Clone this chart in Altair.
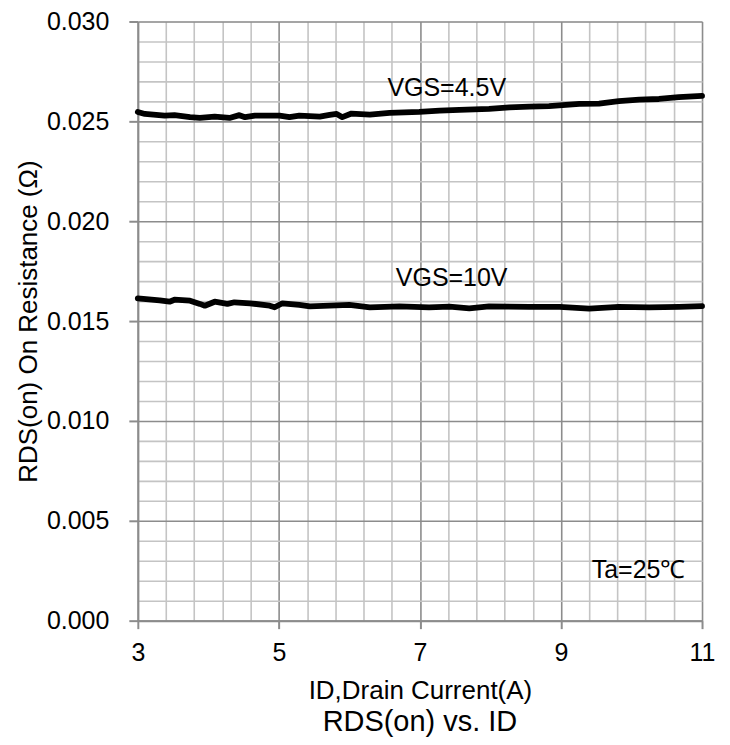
import altair as alt
import pandas as pd

# VGS = 4.5 V curve
id_45 = [3.00, 3.10, 3.38, 3.52, 3.74, 3.88, 4.09, 4.30, 4.44, 4.52, 4.66, 5.01, 5.15,
         5.29, 5.58, 5.72, 5.82, 5.90, 6.03, 6.29, 6.57, 6.99, 7.28, 7.56, 7.98, 8.27,
         8.55, 8.83, 9.26, 9.54, 9.82, 10.11, 10.39, 10.67, 11.00]
rds_45 = [0.02547, 0.02537, 0.02529, 0.02531, 0.02521, 0.02517, 0.02524, 0.02517, 0.02531,
          0.02521, 0.02529, 0.02529, 0.02521, 0.02529, 0.02524, 0.02532, 0.02537, 0.02521,
          0.02539, 0.02534, 0.02542, 0.02547, 0.02554, 0.02557, 0.02562, 0.02570, 0.02574,
          0.02576, 0.02587, 0.02589, 0.02601, 0.02609, 0.02612, 0.02621, 0.02628]

# VGS = 10 V curve
id_10 = [3.00, 3.31, 3.45, 3.52, 3.74, 3.88, 3.95, 4.09, 4.27, 4.37, 4.59, 4.87, 4.94,
         5.05, 5.29, 5.44, 5.72, 6.00, 6.29, 6.71, 7.13, 7.42, 7.70, 7.98, 8.55, 8.98,
         9.40, 9.82, 10.25, 10.67, 11.00]
rds_10 = [0.01614, 0.01604, 0.01597, 0.01607, 0.01602, 0.01586, 0.01577, 0.01597, 0.01586,
          0.01594, 0.01589, 0.01577, 0.01569, 0.01589, 0.01581, 0.01574, 0.01577, 0.01581,
          0.01569, 0.01574, 0.01569, 0.01572, 0.01564, 0.01574, 0.01571, 0.01571, 0.01562,
          0.01571, 0.01569, 0.01571, 0.01575]

series_names = ["VGS=4.5V", "VGS=10V"]

ann_text = ["VGS=4.5V", "VGS=10V", "Ta=25℃"]
ann_x = [7.38, 7.45, 10.10]
ann_y = [0.02666, 0.01717, 0.00255]

x_ticks = [round(3 + 0.4 * i, 1) for i in range(21)]
y_ticks = [round(0.001 * i, 3) for i in range(31)]

FONT = "Liberation Sans"

rows = []
for xv, yv in zip(id_45, rds_45):
    rows.append({"ID": xv, "RDS": yv, "series": series_names[0]})
for xv, yv in zip(id_10, rds_10):
    rows.append({"ID": xv, "RDS": yv, "series": series_names[1]})
df = pd.DataFrame(rows)
ann = pd.DataFrame({"text": ann_text, "ID": ann_x, "RDS": ann_y})

x_major = "abs((datum.value - 3) / 2 - round((datum.value - 3) / 2)) < 1e-6"
y_major = "abs(datum.value * 200 - round(datum.value * 200)) < 1e-6"

x_enc = alt.X(
    "ID:Q",
    scale=alt.Scale(domain=[3, 11], nice=False, zero=False),
    axis=alt.Axis(
        values=x_ticks,
        tickCount=len(x_ticks),
        format=".0f",
        title="ID,Drain Current(A)",
        labelExpr=f"{x_major} ? datum.label : ''",
        labelOverlap=False,
        labelFlush=False,
        labelFont=FONT, labelFontSize=25, labelColor="#000000", labelPadding=12,
        titleFont=FONT, titleFontSize=26, titleFontWeight="normal", titleColor="#000000",
        titlePadding=12,
        grid=True,
        gridColor={"condition": {"test": x_major, "value": "#8c8c8c"}, "value": "#c4c4c4"},
        gridWidth=1.6,
        tickColor={"condition": {"test": x_major, "value": "#8c8c8c"}, "value": "transparent"},
        tickSize=8, tickWidth=2,
        domainColor="#8c8c8c", domainWidth=2,
    ),
)
y_enc = alt.Y(
    "RDS:Q",
    scale=alt.Scale(domain=[0, 0.03], nice=False, zero=False),
    axis=alt.Axis(
        values=y_ticks,
        tickCount=len(y_ticks),
        format=".3f",
        title="RDS(on) On Resistance (Ω)",
        labelExpr=f"{y_major} ? datum.label : ''",
        labelOverlap=False,
        labelFont=FONT, labelFontSize=25, labelColor="#000000", labelPadding=20,
        titleFont=FONT, titleFontSize=26, titleFontWeight="normal", titleColor="#000000",
        titlePadding=5,
        grid=True,
        gridColor={"condition": {"test": y_major, "value": "#8c8c8c"}, "value": "#c4c4c4"},
        gridWidth=1.6,
        tickColor={"condition": {"test": y_major, "value": "#8c8c8c"}, "value": "transparent"},
        tickSize=9, tickWidth=2,
        domainColor="#8c8c8c", domainWidth=2,
    ),
)

lines = alt.Chart(df).mark_line(color="#000000", strokeWidth=5.8, strokeJoin="round",
                                strokeCap="round").encode(
    x=x_enc, y=y_enc, detail="series:N"
)

labels = alt.Chart(ann).mark_text(font=FONT, fontSize=25, color="#000000",
                                  align="center", baseline="middle").encode(
    x="ID:Q", y="RDS:Q", text="text:N"
)

chart = alt.layer(lines, labels).properties(
    width=565,
    height=600,
    title=alt.TitleParams("RDS(on) vs. ID", orient="bottom", font=FONT, fontSize=29,
                          fontWeight="normal", color="#000000", offset=5),
    autosize=alt.AutoSizeParams(type="none"),
    padding={"left": 130, "top": 13, "right": 20, "bottom": 116},
).configure_view(strokeWidth=0).configure(background="#ffffff")

chart.save("out.html", embed_options={"renderer": "svg", "actions": False})
